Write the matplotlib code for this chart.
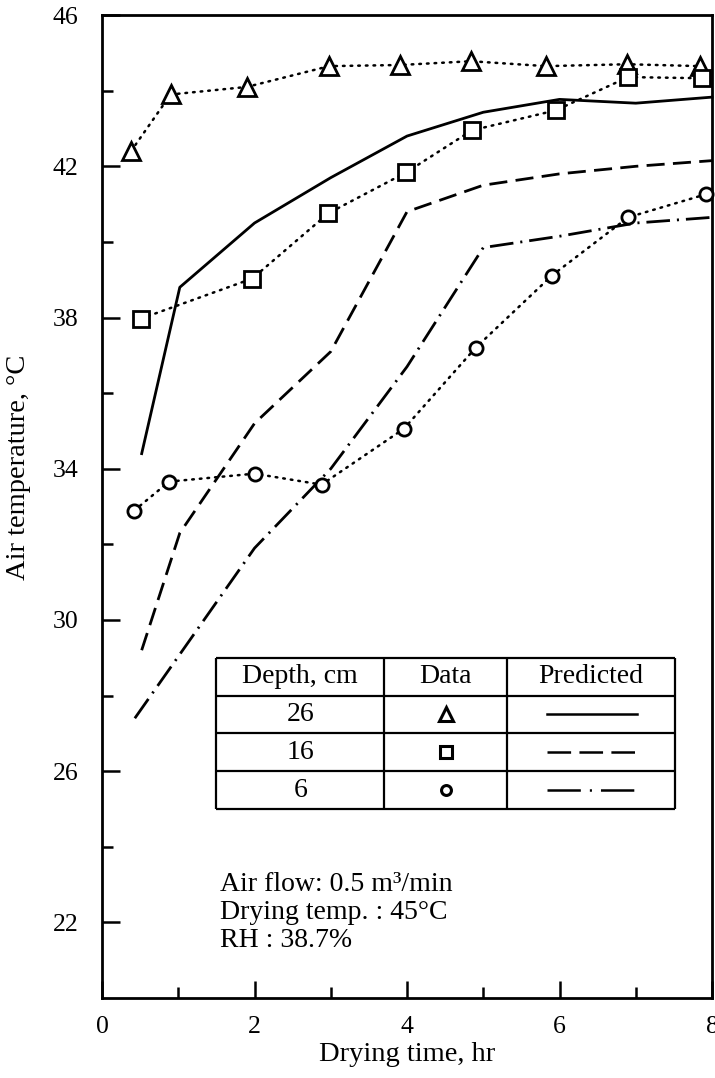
import matplotlib
matplotlib.use("Agg")
import matplotlib.pyplot as plt

plt.rcParams['font.family'] = ['Liberation Serif', 'DejaVu Serif']
plt.rcParams['lines.scale_dashes'] = False

# measured data (symbols)
t_26 = [0.38, 0.90, 1.90, 2.98, 3.91, 4.84, 5.82, 6.89, 7.84]
temp_26 = [42.4, 43.9, 44.1, 44.65, 44.68, 44.78, 44.65, 44.7, 44.65]

t_16 = [0.51, 1.97, 2.97, 3.99, 4.85, 5.95, 6.90, 7.87]
temp_16 = [37.97, 39.03, 40.76, 41.84, 42.95, 43.48, 44.36, 44.33]

t_6 = [0.42, 0.88, 2.0, 2.88, 3.96, 4.9, 5.9, 6.9, 7.92]
temp_6 = [32.89, 33.66, 33.87, 33.58, 35.06, 37.2, 39.11, 40.65, 41.26]

# predicted curves
tp = [0.52, 1.02, 2.0, 3.0, 4.0, 5.0, 6.0, 7.0, 8.0]
pred_26 = [34.4, 38.8, 40.5, 41.7, 42.8, 43.43, 43.77, 43.67, 43.83]
pred_16 = [29.2, 32.3, 35.2, 37.1, 40.8, 41.5, 41.8, 42.0, 42.15]
tp_6 = [0.43, 2.0, 3.0, 4.0, 5.0, 6.0, 7.0, 8.0]
pred_6 = [27.4, 31.9, 34.0, 36.7, 39.85, 40.15, 40.5, 40.65]

depths = ["26", "16", "6"]
markers = ['^', 's', 'o']
msizes = [13, 11, 9.5]
dash_styles = ['-', (0, (13, 6)), (0, (17, 5, 1.5, 5))]
key_styles = ['-', (0, (17, 6)), (0, (24, 6.5, 1.5, 6.5))]

fig = plt.figure(figsize=(7.15, 10.78), dpi=100)
ax = fig.add_axes([0.1427, 0.0742, 0.8531, 0.9118])

dotted = (0, (1.2, 4.3))
for tt, yy, m, ms in zip([t_26, t_16, t_6], [temp_26, temp_16, temp_6], markers, msizes):
    ax.plot(tt, yy, color='black', linestyle=dotted, lw=1.8,
            dash_capstyle='round', zorder=2)
    ax.plot(tt, yy, linestyle='none', marker=m, ms=ms, mfc='white',
            mec='black', mew=2.0, zorder=4, clip_on=False)

for tt, yy, ls in zip([tp, tp, tp_6], [pred_26, pred_16, pred_6], dash_styles):
    ax.plot(tt, yy, color='black', linestyle=ls, lw=2.0, zorder=3,
            clip_on=False)

ax.set_xlim(0, 8)
ax.set_ylim(20, 46)
ax.set_xticks([0, 2, 4, 6, 8])
ax.set_xticks([1, 3, 5, 7], minor=True)
ax.set_yticks([22, 26, 30, 34, 38, 42, 46])
ax.set_yticks([24, 28, 32, 36, 40, 44], minor=True)
ax.tick_params(which='both', direction='in', width=1.8, labelsize=18.5,
               top=False, right=False)
ax.tick_params(axis='y', which='major', length=13, pad=17)
ax.tick_params(axis='y', which='minor', length=8)
ax.tick_params(axis='x', which='major', length=12, pad=13)
ax.tick_params(axis='x', which='minor', length=8)
for sp in ax.spines.values():
    sp.set_linewidth(2.0)

ax.set_xlabel("Drying time, hr", fontsize=20.5)
ax.set_ylabel("Air temperature, °C", fontsize=20.5)
ax.xaxis.set_label_coords(0.5, -0.045)
ax.yaxis.set_label_coords(-0.116, 0.54)

# table-style key
col_edges = [1.5, 3.7, 5.31, 7.51]
row_edges = [29, 28, 27, 26, 25]
tlw = 1.6
ax.hlines(row_edges, col_edges[0], col_edges[-1], color='black', lw=tlw, zorder=5)
ax.vlines(col_edges, row_edges[-1], row_edges[0], color='black', lw=tlw, zorder=5)
col_c = [(col_edges[i] + col_edges[i + 1]) / 2 for i in range(3)]
header = ["Depth, cm", "Data", "Predicted"]
for c, h in zip(col_c, header):
    ax.text(c, 28.5, h, ha='center', va='center', fontsize=20)
for i, d in enumerate(depths):
    yc = row_edges[i + 1] - 0.5
    ax.text(col_c[0], yc, d, ha='center', va='center', fontsize=20)
    ax.plot([col_c[1]], [yc], marker=markers[i], ms=msizes[i] * 0.75,
            mfc='white', mec='black', mew=2.2, zorder=6)
    ax.plot([5.84, 7.02], [yc, yc], color='black', linestyle=key_styles[i],
            lw=1.8, zorder=6)

notes = ["Air flow: 0.5 m³/min", "Drying temp. : 45°C", "RH : 38.7%"]
for i, n in enumerate(notes):
    ax.text(1.55, 22.82 - i * 0.73, n, ha='left', va='baseline', fontsize=20)

fig.savefig("out.png", dpi=100)
